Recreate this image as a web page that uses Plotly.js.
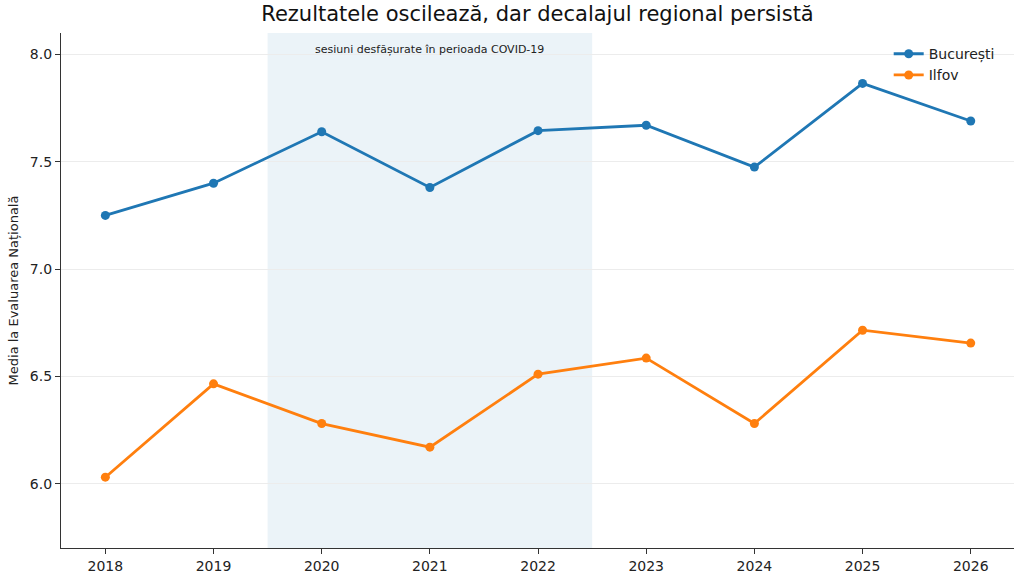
<!DOCTYPE html>
<html>
<head>
<meta charset="utf-8">
<script src="https://cdn.plot.ly/plotly-3.0.1.min.js"></script>
<style>body{margin:0;background:#fff}#chart{width:1024px;height:582px}</style>
</head>
<body>
<div id="chart"></div>
<script>
const years = [2018, 2019, 2020, 2021, 2022, 2023, 2024, 2025, 2026];
const bucuresti = [7.25, 7.40, 7.64, 7.38, 7.645, 7.67, 7.475, 7.865, 7.69];
const ilfov = [6.03, 6.465, 6.28, 6.17, 6.51, 6.585, 6.28, 6.715, 6.655];
const covidStart = 2019.5;
const covidEnd = 2022.5;
const covidLabel = 'sesiuni desfășurate în perioada COVID-19';

const font = 'DejaVu Sans, sans-serif';

const traces = [
    {
        x: years, y: bucuresti, name: 'București',
        type: 'scatter', mode: 'lines+markers',
        line: { color: '#1f77b4', width: 2.8 },
        marker: { color: '#1f77b4', size: 9 }
    },
    {
        x: years, y: ilfov, name: 'Ilfov',
        type: 'scatter', mode: 'lines+markers',
        line: { color: '#ff7f0e', width: 2.8 },
        marker: { color: '#ff7f0e', size: 9 }
    }
];

const layout = {
    width: 1024, height: 582,
    margin: { l: 61, r: 10, t: 33, b: 34 },
    paper_bgcolor: '#fff', plot_bgcolor: '#fff',
    font: { family: font, size: 13, color: '#222' },
    title: { text: 'Rezultatele oscilează, dar decalajul regional persistă',
             font: { family: font, size: 21, color: '#111' },
             xref: 'paper', x: 0.5, xanchor: 'center', y: 0.99, yanchor: 'top' },
    xaxis: {
        range: [2017.59, 2026.4], tickvals: years, ticktext: years.map(String),
        showgrid: false, zeroline: false,
        showline: true, linecolor: '#333', linewidth: 1.2,
        ticks: 'outside', ticklen: 5, tickcolor: '#333',
        tickfont: { size: 14 }
    },
    yaxis: {
        range: [5.70, 8.10], tickvals: [6.0, 6.5, 7.0, 7.5, 8.0], ticktext: ['6.0', '6.5', '7.0', '7.5', '8.0'],
        showgrid: true, gridcolor: '#ececec', gridwidth: 1, zeroline: false,
        showline: true, linecolor: '#333', linewidth: 1.2,
        ticks: 'outside', ticklen: 5, tickcolor: '#333',
        tickfont: { size: 14 },
        title: { text: 'Media la Evaluarea Națională', font: { size: 13 }, standoff: 8 }
    },
    shapes: [{
        type: 'rect', xref: 'x', yref: 'paper', x0: covidStart, x1: covidEnd, y0: 0, y1: 1,
        fillcolor: 'rgba(31,119,180,0.09)', line: { width: 0 }, layer: 'below'
    }],
    annotations: [{
        x: (covidStart + covidEnd) / 2, xref: 'x', y: 0.985, yref: 'paper',
        text: covidLabel, showarrow: false, yanchor: 'top',
        font: { family: font, size: 11, color: '#222' }
    }],
    showlegend: true,
    legend: { x: 0.985, xanchor: 'right', y: 0.99, yanchor: 'top', bgcolor: 'rgba(255,255,255,0)',
              font: { size: 14 } }
};

Plotly.newPlot('chart', traces, layout, { displayModeBar: false });
</script>
</body>
</html>
